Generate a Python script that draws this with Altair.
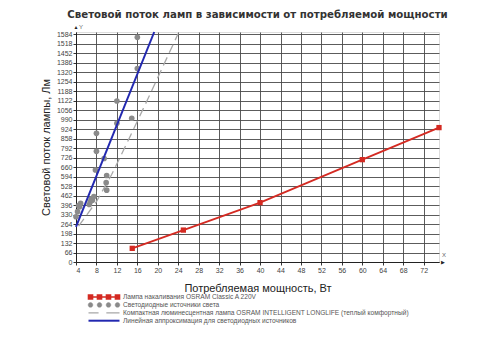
import altair as alt
import pandas as pd

# ---------------- data ----------------
inc_w = [15, 25, 40, 60, 75]
inc_lm = [95, 222, 413, 712, 935]

led_w = [4.0, 4.3, 4.5, 4.7, 4.9, 6.6, 6.8, 7.0, 7.2, 7.5, 7.8, 8.0, 8.0,
         9.5, 9.9, 10.0, 10.0, 12.0, 12.0, 14.9, 16.0, 16.0]
led_lm = [315, 350, 393, 385, 408, 400, 420, 440, 430, 455, 640, 770, 895,
          720, 552, 500, 602, 1120, 965, 1000, 1346, 1563]

cfl_w = [4.5, 8, 11, 14, 18, 24]
cfl_lm = [250, 420, 610, 830, 1130, 1590]

fit_w = [4, 19.3]
fit_lm = [244, 1600]

x_ticks = [4, 8, 12, 16, 20, 24, 28, 32, 36, 40, 44, 48, 52, 56, 60, 64, 68, 72]
y_ticks = [0, 66, 132, 198, 264, 330, 396, 462, 528, 594, 660, 726, 792, 858,
           924, 990, 1056, 1122, 1188, 1254, 1320, 1386, 1452, 1518, 1584]

legend_labels = [
    "Лампа накаливания OSRAM Classic A 220V",
    "Светодиодные источники света",
    "Компактная люминесцентная лампа OSRAM INTELLIGENT LONGLIFE (теплый комфортный)",
    "Линейная аппроксимация для светодиодных источников",
]

title_text = "Световой поток ламп в зависимости от потребляемой мощности"
x_title = "Потребляемая мощность, Вт"
y_title = "Световой поток лампы, Лм"

# ---------------- styles ----------------
RED = "#d42a22"
GRAY = "#8a8a8a"
DASH = "#a8a8a8"
BLUE = "#2228b0"
W, H = 363, 230

inc = pd.DataFrame({"w": inc_w, "lm": inc_lm})
led = pd.DataFrame({"w": led_w, "lm": led_lm})
cfl = pd.DataFrame({"w": cfl_w, "lm": cfl_lm})
fit = pd.DataFrame({"w": fit_w, "lm": fit_lm})
one = pd.DataFrame({"a": [0]})

X = alt.X("w:Q", scale=alt.Scale(domain=[4, 75], nice=False, zero=False),
          axis=alt.Axis(values=x_ticks, format="d", grid=True, gridColor="#4a4a4a", gridWidth=0.9,
                        tickSize=3, tickColor="#333", labelFontSize=7, labelFont="Liberation Sans",
                        labelColor="#444", labelPadding=1, domainColor="#222", domainWidth=1,
                        title=x_title, titleFont="Liberation Sans", titleFontSize=11,
                        titleFontWeight="normal", titleColor="#222", titlePadding=9))
Y = alt.Y("lm:Q", scale=alt.Scale(domain=[0, 1600], nice=False),
          axis=alt.Axis(values=y_ticks, format="d", grid=True, gridColor="#4a4a4a", gridWidth=0.9,
                        tickSize=3, tickColor="#333", labelFontSize=7, labelFont="Liberation Sans",
                        labelColor="#444", labelPadding=1, domainColor="#222", domainWidth=1,
                        title=y_title, titleFont="Liberation Sans", titleFontSize=11,
                        titleFontWeight="normal", titleColor="#222", titlePadding=5))

cfl_line = alt.Chart(cfl).mark_line(color=DASH, strokeWidth=1.3, strokeDash=[9, 5]).encode(x=X, y=Y)
led_pts = alt.Chart(led).mark_circle(color=GRAY, size=32, opacity=1).encode(x=X, y=Y)
fit_line = alt.Chart(fit).mark_line(color=BLUE, strokeWidth=2).encode(x=X, y=Y)
inc_line = alt.Chart(inc).mark_line(color=RED, strokeWidth=1.8).encode(x=X, y=Y)
inc_pts = alt.Chart(inc).mark_square(color=RED, size=28, opacity=1).encode(x=X, y=Y)

# axis arrows
deco = []
deco.append(alt.Chart(one).mark_text(text="▲", fontSize=5, color="#222", align="center",
                                     baseline="middle").encode(x=alt.value(0), y=alt.value(-5)))
deco.append(alt.Chart(one).mark_text(text="Y", fontSize=6, color="#666", align="left",
                                     baseline="middle", font="Liberation Sans").encode(x=alt.value(3), y=alt.value(-5)))
deco.append(alt.Chart(one).mark_text(text="▶", fontSize=5, color="#222", align="center",
                                     baseline="middle").encode(x=alt.value(W + 4), y=alt.value(H)))
deco.append(alt.Chart(one).mark_text(text="X", fontSize=6, color="#666", align="center",
                                     baseline="middle", font="Liberation Sans").encode(x=alt.value(W + 5), y=alt.value(H - 7)))

# legend (hand-built, below the plot)
def squares_path():
    p = "M-1,0H1"
    for c in (-0.87, -0.29, 0.29, 0.87):
        p += f"M{c-0.13:.2f},-0.13h0.26v0.26h-0.26Z"
    return p

def dots_path():
    p = ""
    r = 0.15
    for c in (-0.87, -0.29, 0.29, 0.87):
        p += f"M{c-r:.2f},0a{r},{r} 0 1,0 {2*r},0a{r},{r} 0 1,0 {-2*r},0"
    return p

sym_styles = [
    dict(shape=squares_path(), fill=RED, stroke=RED, strokeWidth=1.6),
    dict(shape=dots_path(), fill=GRAY, stroke=GRAY, strokeWidth=0.5),
    dict(shape="M-1,0H-0.35M0.15,0H1", fill="none", stroke=DASH, strokeWidth=1.2),
    dict(shape="M-1,0H1", fill="none", stroke=BLUE, strokeWidth=2),
]
leg_y0, leg_dy = 265, 7.9
for i, (lab, st) in enumerate(zip(legend_labels, sym_styles)):
    yy = leg_y0 + leg_dy * i
    deco.append(alt.Chart(one).mark_point(size=961, opacity=1, filled=True, **st)
                .encode(x=alt.value(28), y=alt.value(yy)))
    deco.append(alt.Chart(one).mark_text(text=lab, fontSize=6.6, font="Liberation Sans",
                                         color="#555", align="left", baseline="middle")
                .encode(x=alt.value(47), y=alt.value(yy)))

chart = alt.layer(cfl_line, led_pts, fit_line, inc_line, inc_pts, *deco).properties(
    width=W, height=H,
    title=alt.TitleParams(title_text, font="DejaVu Sans", fontSize=10.2, fontWeight="bold",
                          color="#333", anchor="middle", offset=4),
    autosize=alt.AutoSizeParams(type="none"),
    padding={"left": 76, "top": 32, "right": 61, "bottom": 88},
).configure_view(strokeWidth=0).configure(background="white")

chart.save("out.html", embed_options={"renderer": "svg", "actions": False})
